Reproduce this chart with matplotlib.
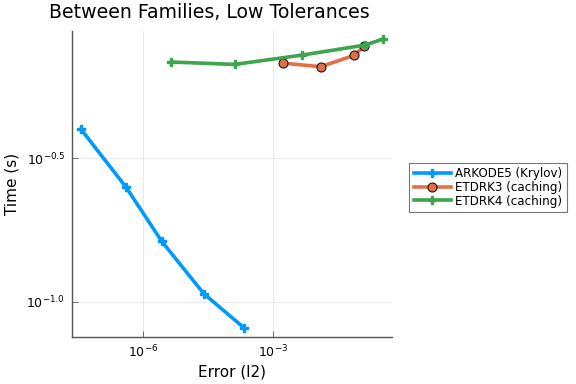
import matplotlib
matplotlib.use("Agg")
import matplotlib.pyplot as plt
from matplotlib.ticker import FixedLocator, FixedFormatter, NullLocator

# Data (error, time)
ark_err = [3.82e-8, 4.13e-7, 2.74e-6, 2.56e-5, 2.13e-4]
ark_time = [0.399, 0.251, 0.1625, 0.1067, 0.0813]
etd3_err = [1.64e-3, 1.23e-2, 7.2e-2, 1.24e-1]
etd3_time = [0.678, 0.659, 0.721, 0.778]
etd4_err = [4.54e-6, 1.30e-4, 4.59e-3, 1.26e-1, 3.38e-1]
etd4_time = [0.684, 0.671, 0.723, 0.783, 0.822]

labels = ["ARKODE5 (Krylov)", "ETDRK3 (caching)", "ETDRK4 (caching)"]
xtick_vals = [1e-6, 1e-3]
xtick_labels = [r"$10^{-6}$", r"$10^{-3}$"]
ytick_vals = [10**-0.5, 10**-1.0]
ytick_labels = [r"$10^{-0.5}$", r"$10^{-1.0}$"]

W, H = 576, 384
fig = plt.figure(figsize=(W/100, H/100), dpi=100)
ax = fig.add_axes([72/W, 1-337/H, (392-72)/W, (337-31)/H])

blue, orange, green = "#009AFA", "#E26F46", "#3EA44E"
ax.plot(ark_err, ark_time, color=blue, lw=2.6, marker="P", ms=6,
        mec=blue, mfc=blue, label=labels[0])
ax.plot(etd3_err, etd3_time, color=orange, lw=2.6, marker="o", ms=6.5,
        mec="black", mew=0.7, mfc=orange, label=labels[1])
ax.plot(etd4_err, etd4_time, color=green, lw=2.6, marker="P", ms=6,
        mec=green, mfc=green, label=labels[2])

ax.set_xscale("log")
ax.set_yscale("log")
ax.set_xlim(10**-7.625, 10**-0.27)
ax.set_ylim(10**-1.122, 10**-0.057)

ax.xaxis.set_major_locator(FixedLocator(xtick_vals))
ax.xaxis.set_major_formatter(FixedFormatter(xtick_labels))
ax.yaxis.set_major_locator(FixedLocator(ytick_vals))
ax.yaxis.set_major_formatter(FixedFormatter(ytick_labels))
ax.xaxis.set_minor_locator(NullLocator())
ax.yaxis.set_minor_locator(NullLocator())

ax.grid(True, color="#e6e6e6", lw=0.6)
ax.set_axisbelow(True)
for s in ["top", "right"]:
    ax.spines[s].set_visible(False)
for s in ["left", "bottom"]:
    ax.spines[s].set_color("#555555")
    ax.spines[s].set_linewidth(1.0)
ax.tick_params(direction="in", length=4, width=0.6, color="#555555",
               labelsize=9, pad=5)

ax.set_xlabel("Error (l2)", fontsize=11, labelpad=3)
ax.set_ylabel("Time (s)", fontsize=11, labelpad=5)
fig.text(209/W, 1-12/H, "Between Families, Low Tolerances", fontsize=13.6,
         ha="center", va="center")

leg = ax.legend(loc="center left", bbox_to_anchor=(409/W, 1-187.5/H),
                bbox_transform=fig.transFigure, fontsize=8.6, frameon=True,
                fancybox=False, edgecolor="#555555", handlelength=3.1,
                borderpad=0.4, labelspacing=0.05, handletextpad=0.35,
                borderaxespad=0)
leg.get_frame().set_linewidth(0.8)

fig.savefig("out.png", dpi=100)
